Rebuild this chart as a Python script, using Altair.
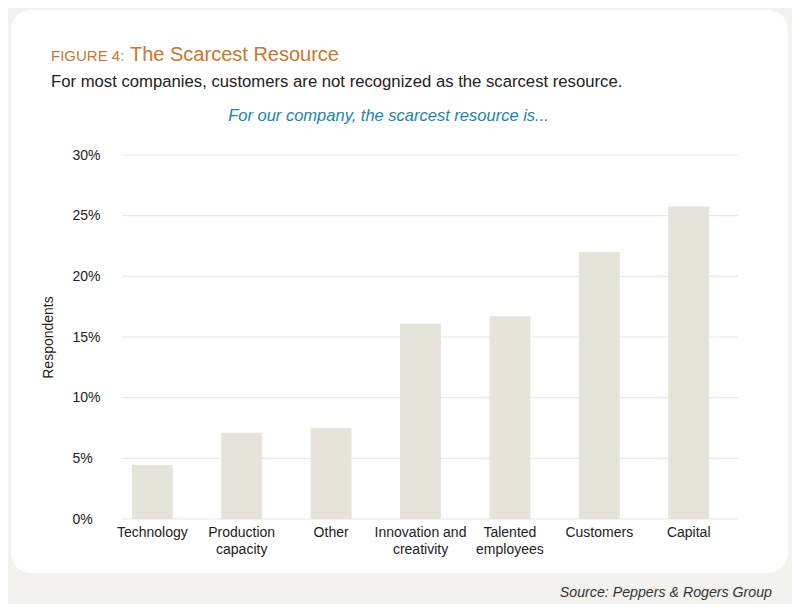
import altair as alt
import pandas as pd

# ---- data ----
categories = ["Technology", "Production|capacity", "Other", "Innovation and|creativity",
              "Talented|employees", "Customers", "Capital"]
values = [4.45, 7.1, 7.5, 16.1, 16.7, 22.0, 25.75]
y_ticks = [0, 5, 10, 15, 20, 25, 30]

title_prefix = "FIGURE 4:"
title_main = "The Scarcest Resource"
subtitle = "For most companies, customers are not recognized as the scarcest resource."
question = "For our company, the scarcest resource is..."
source = "Source: Peppers & Rogers Group"
y_title = "Respondents"

FONT = "Liberation Sans"
ORANGE = "#c8782e"
TEAL = "#1a85ab"
BAR = "#e6e4da"
GRID = "#ebe9e2"
TEXT = "#222222"

W, H = 631, 364

df = pd.DataFrame({"category": categories, "value": values})
grid_df = pd.DataFrame({"value": y_ticks})
one = pd.DataFrame({"k": [0]})

card = alt.Chart(one).mark_rect(color="white", cornerRadius=20).encode(
    x=alt.value(-94), x2=alt.value(683), y=alt.value(-145), y2=alt.value(418)
)

grid = alt.Chart(grid_df).mark_rule(color=GRID, strokeWidth=1.2).encode(
    y=alt.Y("value:Q", scale=alt.Scale(domain=[0, 30])),
    x=alt.value(17), x2=alt.value(633)
)

bars = alt.Chart(df).mark_bar(color=BAR).encode(
    x=alt.X("category:N", sort=categories,
            scale=alt.Scale(paddingInner=0.542, paddingOuter=0.3),
            axis=alt.Axis(title=None, labelAngle=0,
                          labelExpr="split(datum.label, '|')",
                          labelFont=FONT, labelFontSize=14, labelColor=TEXT,
                          labelPadding=6, labelLineHeight=17, labelBaseline="top",
                          ticks=False, domain=False, grid=False, zindex=1)),
    y=alt.Y("value:Q", scale=alt.Scale(domain=[0, 30]),
            axis=alt.Axis(values=y_ticks, labelExpr="datum.value + '%'",
                          title=y_title, titleFont=FONT, titleFontSize=14,
                          titleFontWeight="normal", titleColor=TEXT,
                          titleX=-57, titleY=H / 2, titleAngle=270,
                          titleBaseline="middle", titleAlign="center",
                          labelFont=FONT, labelFontSize=14, labelColor=TEXT,
                          labelAlign="left", labelBaseline="middle",
                          labelPadding=33, tickSize=0, ticks=False,
                          domain=False, grid=False, zindex=1))
)

def txt(s, x, y, size, color, align="left", style="normal"):
    return alt.Chart(pd.DataFrame({"t": [s]})).mark_text(
        font=FONT, fontSize=size, color=color, align=align,
        baseline="alphabetic", fontStyle=style
    ).encode(text="t:N", x=alt.value(x), y=alt.value(y))

texts = [
    txt(title_prefix, -54, -94, 15, ORANGE),
    txt(title_main, 25, -94, 20, ORANGE),
    txt(subtitle, -54, -68, 16.7, TEXT),
    txt(question, 283.5, -34, 16.5, TEAL, align="center", style="italic"),
    txt(source, 667, 442, 14.2, "#333333", align="right", style="italic"),
]

chart = alt.layer(card, grid, bars, *texts).properties(
    width=W, height=H,
    padding={"left": 97, "top": 147, "right": 56, "bottom": 85},
    autosize="none",
    background="#f3f2ee",
).configure_view(stroke=None)

chart.save("out.html", embed_options={"renderer": "svg", "actions": False})
